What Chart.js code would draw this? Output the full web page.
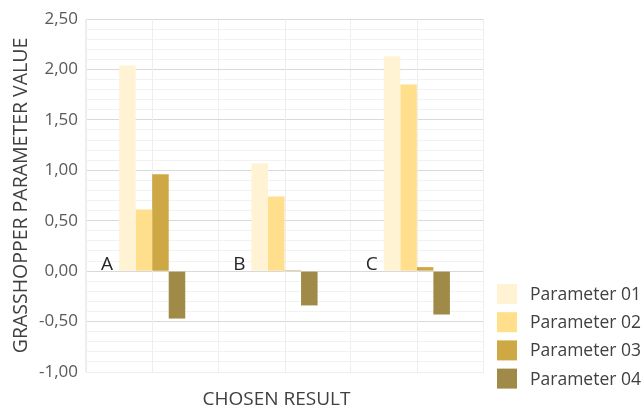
<!DOCTYPE html>
<html>
<head>
<meta charset="utf-8">
<script src="https://cdn.jsdelivr.net/npm/chart.js@4/dist/chart.umd.min.js"></script>
<style>
html,body{margin:0;padding:0;background:#fff;}
canvas{display:block;}
</style>
</head>
<body>
<canvas id="c" width="644" height="405"></canvas>
<script>
const categories = ['A', 'B', 'C'];
const seriesNames = ['Parameter 01', 'Parameter 02', 'Parameter 03', 'Parameter 04'];
const param01 = [2.04, 1.07, 2.13];
const param02 = [0.61, 0.74, 1.85];
const param03 = [0.96, 0.01, 0.04];
const param04 = [-0.47, -0.34, -0.43];
const colors = ['#FFF3D4', '#FFDE8C', '#CDA845', '#A08A47'];
const yTickLabels = ['-1,00', '-0,50', '0,00', '0,50', '1,00', '1,50', '2,00', '2,50'];
const xAxisTitle = 'CHOSEN RESULT';
const yAxisTitle = 'GRASSHOPPER PARAMETER VALUE';

const FONT = '"Open Sans", "Liberation Sans", sans-serif';

const extrasPlugin = {
  id: 'extras',
  beforeDatasetsDraw(chart) {
    const ctx = chart.ctx;
    const xs = chart.scales.x;
    const area = chart.chartArea;
    ctx.save();
    ctx.strokeStyle = '#EEEEEE';
    ctx.lineWidth = 1;
    for (let i = 0; i < categories.length; i++) {
      const px = Math.round(xs.getPixelForValue(i)) + 0.5;
      ctx.beginPath();
      ctx.moveTo(px, area.top);
      ctx.lineTo(px, area.bottom);
      ctx.stroke();
    }
    ctx.restore();
  },
  afterDraw(chart) {
    const ctx = chart.ctx;
    const xs = chart.scales.x;
    const ys = chart.scales.y;
    ctx.save();
    // category labels near zero line
    ctx.font = '19px ' + FONT;
    ctx.fillStyle = '#262626';
    ctx.textAlign = 'right';
    ctx.textBaseline = 'alphabetic';
    const y0 = ys.getPixelForValue(0);
    const catW = xs.getPixelForValue(1) - xs.getPixelForValue(0);
    for (let i = 0; i < categories.length; i++) {
      const groupStart = xs.getPixelForValue(i) - catW * 0.25;
      ctx.fillText(categories[i], groupStart - 6, y0 - 1);
    }
    // x axis title
    ctx.textAlign = 'center';
    ctx.textBaseline = 'middle';
    ctx.fillStyle = '#404040';
    ctx.font = '19px ' + FONT;
    ctx.fillText(xAxisTitle, xs.left + (xs.right - xs.left) / 2 - 8, 399.5);
    // legend
    const lx = 497, ly = 284, box = 20, step = 28.2;
    ctx.textAlign = 'left';
    ctx.textBaseline = 'middle';
    ctx.font = '17.5px ' + FONT;
    chart.data.datasets.forEach((ds, i) => {
      const y = ly + i * step;
      ctx.fillStyle = ds.backgroundColor;
      ctx.fillRect(lx, y, box, box);
      ctx.fillStyle = '#404040';
      ctx.fillText(ds.label, 530, y + box / 2 + 1);
    });
    ctx.restore();
  }
};

const seriesValues = [param01, param02, param03, param04];

new Chart(document.getElementById('c'), {
  type: 'bar',
  data: {
    labels: categories,
    datasets: seriesNames.map((name, i) => ({
      label: name,
      data: seriesValues[i],
      backgroundColor: colors[i],
      borderWidth: 0,
      categoryPercentage: 0.5,
      barPercentage: 1.0
    }))
  },
  options: {
    responsive: false,
    animation: false,
    devicePixelRatio: 1,
    layout: { padding: { top: 19, right: 161, left: 0, bottom: 0 } },
    plugins: {
      legend: { display: false },
      tooltip: { enabled: false }
    },
    scales: {
      x: {
        afterFit(scale) { scale.height = 33; },
        grid: { color: '#EEEEEE', drawTicks: false, offset: true },
        border: { display: true, color: '#EEEEEE' },
        ticks: { display: false },
        title: { display: false }
      },
      y: {
        min: -1,
        max: 2.5,
        afterFit(scale) { scale.width = 86; },
        afterBuildTicks(scale) {
          const t = [];
          for (let k = -10; k <= 25; k++) t.push({ value: k / 10 });
          scale.ticks = t;
        },
        ticks: {
          autoSkip: false,
          padding: 8,
          color: '#595959',
          font: { family: FONT, size: 17 },
          callback(v) {
            const k = Math.round(v * 10);
            if (k % 5 !== 0) return '';
            return yTickLabels[(k + 10) / 5];
          }
        },
        grid: {
          drawTicks: false,
          color(ctx) {
            const k = Math.round(ctx.tick.value * 10);
            return k % 5 === 0 ? '#D9D9D9' : '#F2F2F2';
          }
        },
        border: { display: true, color: '#EEEEEE' },
        title: {
          display: true,
          text: yAxisTitle,
          color: '#404040',
          font: { family: FONT, size: 19.5, lineHeight: 1 },
          padding: { top: 12, bottom: 0 }
        }
      }
    }
  },
  plugins: [extrasPlugin]
});
</script>
</body>
</html>
